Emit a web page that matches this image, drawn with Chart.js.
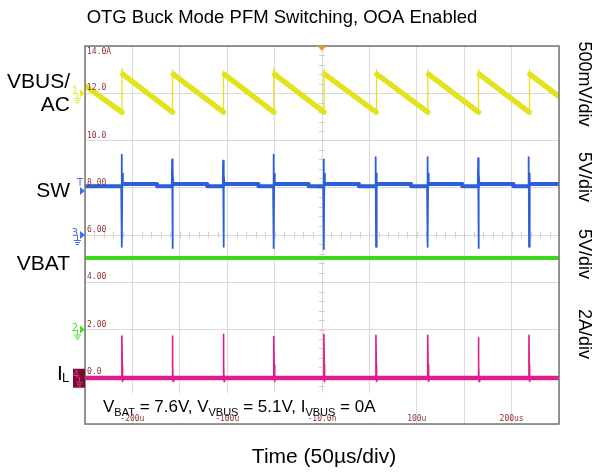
<!DOCTYPE html>
<html lang="en">
<head>
<meta charset="UTF-8">
<title>OTG Buck Mode PFM Switching, OOA Enabled</title>
<script src="https://cdn.jsdelivr.net/npm/chart.js@4.4.0/dist/chart.umd.min.js"></script>
<style>
  html, body { margin: 0; padding: 0; background: #fff; }
</style>
</head>
<body>
<canvas id="scope" width="597" height="472"></canvas>
<script>
// time in µs, all levels read against the left-hand graticule scale (2 units / div)
const xTickValues = [-200, -100, 0, 100, 200];
const xTickLabels = ['-200u', '-100u', '-10.0n', '100u', '200us'];
const yTickValues = [14, 12, 10, 8, 6, 4, 2, 0];
const yTickLabels = ['14.0A', '12.0', '10.0', '8.00', '6.00', '4.00', '2.00', '0.0'];

// CH1 VBUS sawtooth (ramp down, jump up at each switching burst)
const vbusTime = [-250, -211, -211, -210, -157.7, -157.7, -156.7, -103.9, -103.9, -102.9,
  -50.8, -50.8, -49.8, 2.1, 2.1, 3.1, 57, 57, 58, 111.6, 111.6, 112.6,
  165.1, 165.1, 166.1, 218.4, 218.4, 219.4, 250];
const vbusLevel = [12.32, 11.2, 13.05, 12.8, 11.2, 13.0, 12.8, 11.2, 12.95, 12.8,
  11.2, 13.05, 12.8, 11.2, 13.0, 12.8, 11.2, 13.0, 12.8, 11.2, 13.0, 12.8,
  11.2, 13.0, 12.8, 11.2, 13.0, 12.8, 11.86];

// CH3 SW node
const swTime = [-250,
  -211.8, -211.4, -211, -210.6, -210, -174, -174,
  -158.5, -158.1, -157.7, -157.3, -156.7, -121, -121,
  -104.7, -104.3, -103.9, -103.5, -102.9, -67, -67,
  -51.6, -51.2, -50.8, -50.4, -49.8, -14, -14,
  1.3, 1.7, 2.1, 2.5, 3.1, 39, 39,
  56.2, 56.6, 57, 57.4, 58, 94, 94,
  110.8, 111.2, 111.6, 112, 112.6, 148, 148,
  164.3, 164.7, 165.1, 165.5, 166.1, 202, 202,
  217.6, 218, 218.4, 218.8, 219.4, 250];
const swLevel = [8.06,
  8.06, 9.4, 5.5, 8.6, 8.16, 8.16, 8.06,
  8.06, 9.2, 5.45, 8.6, 8.16, 8.16, 8.06,
  8.06, 9.15, 5.5, 8.6, 8.16, 8.16, 8.06,
  8.06, 9.4, 5.45, 8.6, 8.16, 8.16, 8.06,
  8.06, 9.2, 5.4, 8.6, 8.16, 8.16, 8.06,
  8.06, 9.3, 5.5, 8.6, 8.16, 8.16, 8.06,
  8.06, 9.3, 5.5, 8.6, 8.16, 8.16, 8.06,
  8.06, 9.25, 5.45, 8.6, 8.16, 8.16, 8.06,
  8.06, 9.3, 5.5, 8.6, 8.16, 8.16];

// CH2 VBAT
const vbatTime = [-250, 250];
const vbatLevel = [5.03, 5.03];

// CH4 inductor current
const ilTime = [-250,
  -211.5, -211.1, -210.7, -210.4, -209.8,
  -158.2, -157.8, -157.4, -157.1, -156.5,
  -104.4, -104, -103.6, -103.3, -102.7,
  -51.3, -50.9, -50.5, -50.2, -49.6,
  1.6, 2, 2.4, 2.7, 3.3,
  56.5, 56.9, 57.3, 57.6, 58.2,
  111.1, 111.5, 111.9, 112.2, 112.8,
  164.6, 165, 165.4, 165.7, 166.3,
  217.9, 218.3, 218.7, 219, 219.6,
  250];
const ilLevel = [-0.05,
  -0.05, 1.72, 0.5, -0.2, -0.05,
  -0.05, 1.72, 0.5, -0.2, -0.05,
  -0.05, 1.8, 0.5, -0.2, -0.05,
  -0.05, 1.7, 0.5, -0.2, -0.05,
  -0.05, 1.8, 0.5, -0.2, -0.05,
  -0.05, 1.75, 0.5, -0.2, -0.05,
  -0.05, 1.75, 0.5, -0.2, -0.05,
  -0.05, 1.65, 0.5, -0.2, -0.05,
  -0.05, 1.75, 0.5, -0.2, -0.05,
  -0.05];

const SANS = '"Liberation Sans", Arial, sans-serif';
const MONO = '"DejaVu Sans Mono", monospace';

function pts(t, v) {
  return t.map((x, i) => ({ x: x, y: v[i] }));
}

// fast edges are drawn thin, the noisy flat parts as a thick band
function edgeWidth(thin) {
  return ctx => Math.abs(ctx.p1.parsed.x - ctx.p0.parsed.x) < 1.5 ? thin : undefined;
}

function trace(label, data, color, width, thin) {
  return {
    label: label,
    data: data,
    borderColor: color,
    borderWidth: width,
    pointRadius: 0,
    tension: 0,
    borderCapStyle: 'round',
    borderJoinStyle: 'round',
    segment: { borderWidth: edgeWidth(thin) }
  };
}

function groundSymbol(ctx, x, y, color) {
  ctx.strokeStyle = color;
  ctx.lineWidth = 1;
  ctx.beginPath();
  ctx.moveTo(x + 0.5, y - 3); ctx.lineTo(x + 0.5, y + 2);
  ctx.moveTo(x - 3, y + 2.5); ctx.lineTo(x + 4, y + 2.5);
  ctx.moveTo(x - 2, y + 4.5); ctx.lineTo(x + 3, y + 4.5);
  ctx.moveTo(x - 1, y + 6.5); ctx.lineTo(x + 2, y + 6.5);
  ctx.stroke();
}

function arrow(ctx, y, color) {
  ctx.fillStyle = color;
  ctx.beginPath();
  ctx.moveTo(80, y - 4); ctx.lineTo(85, y); ctx.lineTo(80, y + 4);
  ctx.closePath();
  ctx.fill();
}

const scopeDecor = {
  id: 'scopeDecor',
  beforeDatasetsDraw(chart) {
    const { ctx, scales: { x, y } } = chart;
    const cx = Math.round(x.getPixelForValue(0));
    const cy = Math.round(y.getPixelForValue(6));
    ctx.save();
    ctx.strokeStyle = '#cfcfcf';
    ctx.lineWidth = 1;
    ctx.beginPath();
    for (let v = -250; v <= 250; v += 10) {
      const px = Math.round(x.getPixelForValue(v)) + 0.5;
      ctx.moveTo(px, cy - 3); ctx.lineTo(px, cy + 3);
    }
    for (let v = -2; v <= 14.01; v += 0.4) {
      const py = Math.round(y.getPixelForValue(v)) + 0.5;
      ctx.moveTo(cx - 3, py); ctx.lineTo(cx + 3, py);
    }
    ctx.stroke();
    ctx.restore();
  },
  afterDatasetsDraw(chart) {
    const { ctx, chartArea: a, scales: { x, y } } = chart;
    ctx.save();

    // parameter box
    ctx.fillStyle = '#fff';
    ctx.fillRect(a.left + 3, 393, 293, a.bottom - 393 - 1);
    ctx.fillStyle = '#000';
    ctx.textAlign = 'left';
    ctx.textBaseline = 'alphabetic';
    const runs = [['V', 0], ['BAT', 1], [' = 7.6V, V', 0], ['VBUS', 1],
      [' = 5.1V, I', 0], ['VBUS', 1], [' = 0A', 0]];
    let tx = 103;
    for (const [s, sub] of runs) {
      ctx.font = (sub ? '11px ' : '17px ') + SANS;
      ctx.fillText(s, tx, 412 + (sub ? 4 : 0));
      tx += ctx.measureText(s).width;
    }

    // graticule labels
    ctx.fillStyle = '#8c3434';
    ctx.font = '8px ' + MONO;
    ctx.textAlign = 'center';
    ctx.textBaseline = 'middle';
    xTickValues.forEach((v, i) => {
      ctx.fillText(xTickLabels[i], x.getPixelForValue(v), 419);
    });
    ctx.textAlign = 'left';
    yTickValues.forEach((v, i) => {
      const py = y.getPixelForValue(v);
      if (i === 0) {
        ctx.textBaseline = 'top';
        ctx.fillText(yTickLabels[i], a.left + 2, py + 2);
      } else {
        ctx.textBaseline = 'bottom';
        ctx.fillText(yTickLabels[i], a.left + 2, py - 1);
      }
    });

    // outer frame
    ctx.strokeStyle = '#757575';
    ctx.lineWidth = 1.5;
    ctx.strokeRect(a.left, a.top, a.right - a.left, a.bottom - a.top);

    // trigger position marker
    const tp = x.getPixelForValue(0);
    ctx.fillStyle = '#f3961c';
    ctx.beginPath();
    ctx.moveTo(tp - 4.5, a.top); ctx.lineTo(tp + 4.5, a.top); ctx.lineTo(tp, a.top + 5);
    ctx.closePath();
    ctx.fill();

    // channel ground markers
    ctx.font = '10px "DejaVu Sans", sans-serif';
    ctx.textAlign = 'right';
    ctx.textBaseline = 'middle';
    const y1 = y.getPixelForValue(12);
    ctx.fillStyle = '#e8e820';
    ctx.fillText('1', 78, y1 - 2);
    arrow(ctx, y1, '#e8e820');
    groundSymbol(ctx, 77, y1 + 3, '#e8e820');

    const yt = y.getPixelForValue(7.95);
    ctx.fillStyle = '#3f73e6';
    ctx.fillText('T', 83, yt - 6);
    arrow(ctx, yt + 2, '#3f73e6');
    const y3 = y.getPixelForValue(6);
    ctx.fillStyle = '#3f73e6';
    ctx.fillText('3', 78, y3 - 2);
    arrow(ctx, y3, '#3f73e6');
    groundSymbol(ctx, 77, y3 + 3, '#3f73e6');

    const y2 = y.getPixelForValue(2);
    ctx.fillStyle = '#44e02a';
    ctx.fillText('2', 78, y2 - 1);
    arrow(ctx, y2, '#44e02a');
    groundSymbol(ctx, 77, y2 + 3, '#44e02a');

    const y4 = y.getPixelForValue(0);
    ctx.fillStyle = '#7a0c30';
    ctx.fillRect(73, y4 - 8, 12, 19);
    ctx.fillStyle = '#e0308a';
    ctx.fillText('4', 79, y4 - 1);
    groundSymbol(ctx, 79, y4 + 3, '#e0308a');

    ctx.restore();
  },
  afterDraw(chart) {
    const { ctx } = chart;
    ctx.save();
    ctx.fillStyle = '#000';
    ctx.textBaseline = 'middle';

    ctx.textAlign = 'center';
    ctx.font = '18.5px ' + SANS;
    ctx.fillText('OTG Buck Mode PFM Switching, OOA Enabled', 282, 18);
    ctx.font = '21px ' + SANS;
    ctx.textBaseline = 'alphabetic';
    ctx.fillText('Time (50\u00b5s/div)', 324, 463);

    // channel names
    ctx.textAlign = 'right';
    ctx.textBaseline = 'middle';
    ctx.font = '21px ' + SANS;
    ctx.fillText('VBUS/', 70, 82);
    ctx.fillText('AC', 70, 105);
    ctx.fillText('SW', 70, 191);
    ctx.fillText('VBAT', 70, 264);
    ctx.textAlign = 'left';
    ctx.textBaseline = 'alphabetic';
    ctx.fillText('I', 57, 380);
    ctx.font = '13px ' + SANS;
    ctx.fillText('L', 62, 382);

    // vertical scale captions on the right
    const scaleText = [['500mV/div', 84], ['5V/div', 177], ['5V/div', 254], ['2A/div', 334]];
    ctx.font = '18px ' + SANS;
    ctx.textAlign = 'center';
    ctx.textBaseline = 'middle';
    for (const [s, cy] of scaleText) {
      ctx.save();
      ctx.translate(584, cy);
      ctx.rotate(Math.PI / 2);
      ctx.fillText(s, 0, 0);
      ctx.restore();
    }
    ctx.restore();
  }
};

new Chart(document.getElementById('scope'), {
  type: 'line',
  data: {
    datasets: [
      trace('VBUS', pts(vbusTime, vbusLevel), '#e3e31c', 5.5, 1.3),
      trace('SW', pts(swTime, swLevel), '#2d5fd8', 4, 1.8),
      trace('VBAT', pts(vbatTime, vbatLevel), '#3bd81e', 4, 1.5),
      trace('IL', pts(ilTime, ilLevel), '#e01c8a', 4.5, 1.6)
    ]
  },
  options: {
    responsive: false,
    animation: false,
    layout: { padding: { left: 85, right: 38, top: 46, bottom: 48 } },
    scales: {
      x: {
        type: 'linear',
        min: -250,
        max: 250,
        ticks: { display: false, stepSize: 50 },
        grid: { color: '#dadada', drawTicks: false },
        border: { display: false }
      },
      y: {
        type: 'linear',
        min: -2,
        max: 14,
        ticks: { display: false, stepSize: 2 },
        grid: { color: '#dadada', drawTicks: false },
        border: { display: false }
      }
    },
    plugins: {
      legend: { display: false },
      tooltip: { enabled: false },
      title: { display: false }
    }
  },
  plugins: [scopeDecor]
});
</script>
</body>
</html>
